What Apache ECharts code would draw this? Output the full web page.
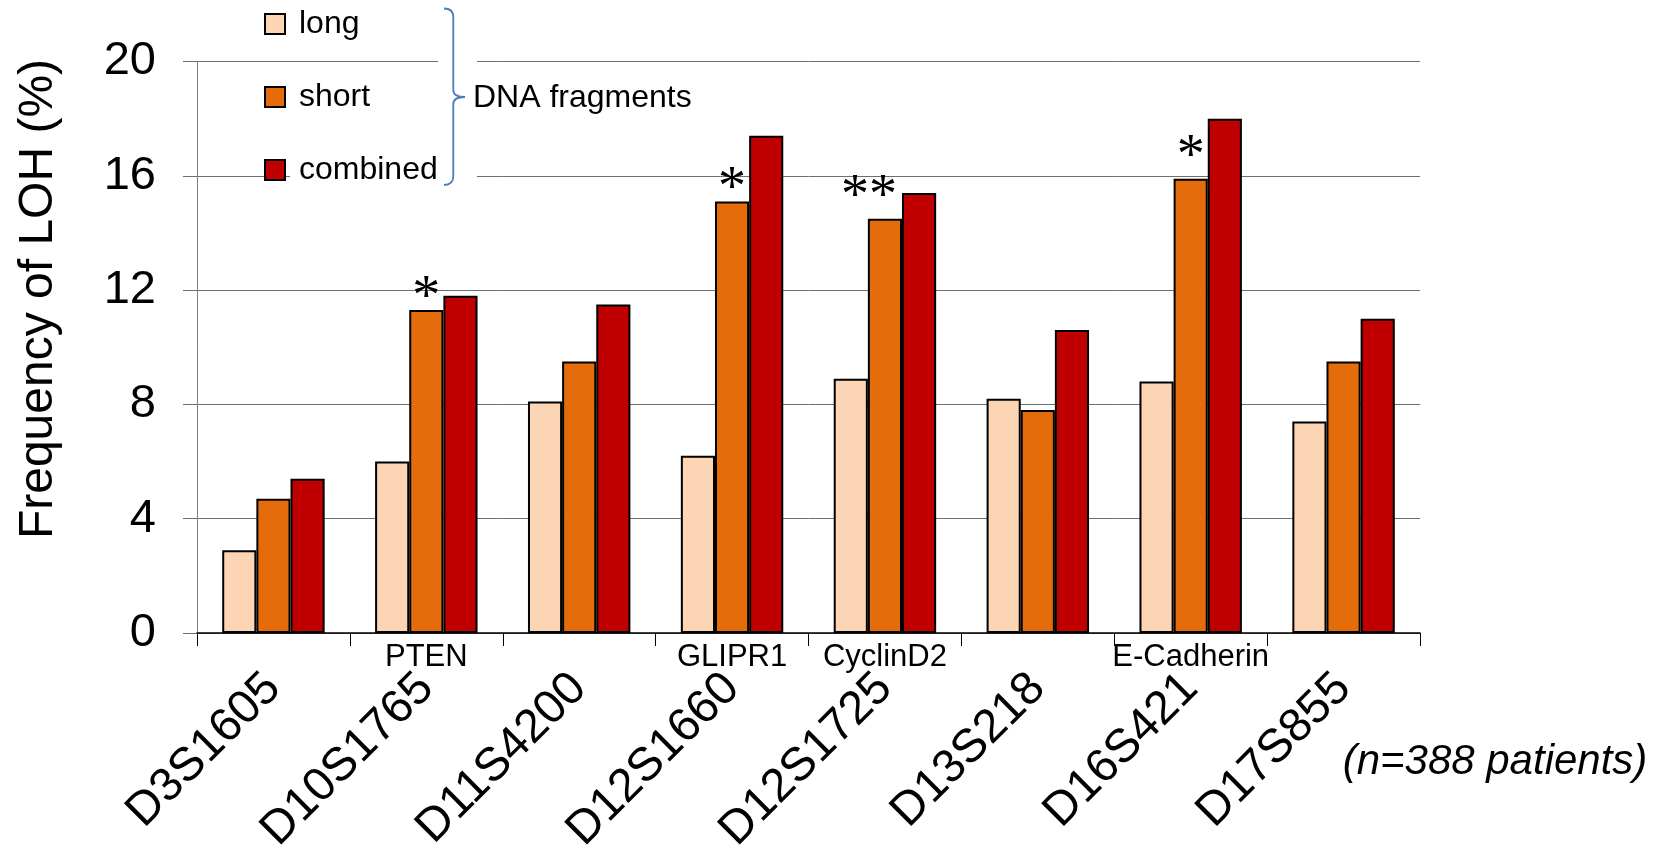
<!DOCTYPE html>
<html>
<head>
<meta charset="utf-8">
<title>Frequency of LOH</title>
<script src="https://cdn.jsdelivr.net/npm/echarts@6/dist/echarts.min.js"></script>
<style>
  html, body { margin: 0; padding: 0; background: #fff; }
  #chart { width: 1663px; height: 851px; }
</style>
</head>
<body>
<div id="chart"></div>
<script>
// Microsatellite markers along the x axis
const categories = ['D3S1605', 'D10S1765', 'D11S4200', 'D12S1660', 'D12S1725', 'D13S218', 'D16S421', 'D17S855'];
// Candidate gene near each marker ('' where none)
const geneNames = ['', 'PTEN', '', 'GLIPR1', 'CyclinD2', '', 'E-Cadherin', ''];
// Frequency of LOH (%) per DNA fragment type
const longFrag = [2.9, 6.0, 8.1, 6.2, 8.9, 8.2, 8.8, 7.4];
const shortFrag = [4.7, 11.3, 9.5, 15.1, 14.5, 7.8, 15.9, 9.5];
const combinedFrag = [5.4, 11.8, 11.5, 17.4, 15.4, 10.6, 18.0, 11.0];
// Significance marks above the short-fragment bars
const significance = ['', '*', '', '*', '**', '', '*', ''];
const seriesNames = ['long', 'short', 'combined'];
const yMin = 0, yMax = 20, yStep = 4;

const colors = { long: '#FCD5B5', short: '#E46C0A', combined: '#C00000' };
const sans = 'Liberation Sans, Arial, sans-serif';

const chart = echarts.init(document.getElementById('chart'), null, { renderer: 'canvas' });

function barSeries(name, values, extra) {
  return Object.assign({
    name: name,
    type: 'bar',
    xAxisIndex: 0,
    barGap: '0%',
    barCategoryGap: '33%',
    itemStyle: { color: colors[name], borderColor: '#000', borderWidth: 2 },
    emphasis: { disabled: true },
    data: values
  }, extra || {});
}

// short bars carry the significance stars
const shortData = shortFrag.map(function (v, i) {
  const mark = significance[i];
  if (!mark) return v;
  const raised = (mark === '**' || i === 6);
  return {
    value: v,
    label: {
      show: true,
      formatter: mark,
      offset: [mark === '**' ? -16 : 0, raised ? 13 : 22]
    }
  };
});

// curly bracket pieces
const bracketStroke = { stroke: '#4A7EBB', lineWidth: 1.8, fill: 'none' };
function bracketCurve(x1, y1, cx, cy, x2, y2) {
  return { type: 'bezierCurve', z: 4, shape: { x1: x1, y1: y1, cpx1: cx, cpy1: cy, x2: x2, y2: y2 }, style: bracketStroke };
}
function bracketLine(x1, y1, x2, y2) {
  return { type: 'line', z: 4, shape: { x1: x1, y1: y1, x2: x2, y2: y2 }, style: bracketStroke };
}

const option = {
  backgroundColor: '#fff',
  animation: false,
  grid: { left: 197, right: 243, top: 61.5, bottom: 218, outerBoundsMode: 'none' },
  legend: {
    orient: 'vertical',
    left: 264,
    top: 8,
    padding: 0,
    icon: 'rect',
    itemWidth: 20,
    itemHeight: 20,
    itemGap: 41,
    selectedMode: false,
    data: seriesNames,
    textStyle: {
      fontFamily: sans, fontSize: 32, color: '#000', lineHeight: 32,
      backgroundColor: '#fff', padding: [0, 4, 0, 9]
    }
  },
  xAxis: [
    {
      type: 'category',
      data: categories,
      position: 'bottom',
      axisLine: { lineStyle: { color: '#000', width: 1.5 } },
      axisTick: { show: true, length: 13, lineStyle: { color: '#000', width: 1 } },
      axisLabel: {
        interval: 0, rotate: 45, margin: 48,
        fontFamily: sans, fontSize: 47, color: '#000'
      },
      splitLine: { show: false }
    },
    {
      type: 'category',
      data: categories,
      position: 'bottom',
      axisLine: { show: false },
      axisTick: { show: false },
      axisLabel: {
        interval: 0, margin: 9,
        fontFamily: sans, fontSize: 31, color: '#000',
        formatter: function (v, i) { return geneNames[i]; }
      },
      splitLine: { show: false }
    }
  ],
  yAxis: {
    type: 'value',
    min: yMin, max: yMax, interval: yStep,
    axisLine: { show: true, lineStyle: { color: '#808080', width: 1 } },
    axisTick: { show: true, inside: false, length: 14, lineStyle: { color: '#6e6e6e', width: 1 } },
    axisLabel: { margin: 41, fontFamily: sans, fontSize: 47, color: '#000' },
    splitLine: { show: true, lineStyle: { color: '#6e6e6e', width: 1 } }
  },
  series: [
    barSeries('long', longFrag),
    barSeries('short', shortData, {
      label: {
        show: false,
        position: 'top',
        distance: 5,
        fontFamily: 'Liberation Serif, Times New Roman, serif',
        fontSize: 56,
        lineHeight: 56,
        color: '#000'
      }
    }),
    barSeries('combined', combinedFrag)
  ],
  graphic: [
    // white backing behind the bracket so the grid lines break around it
    {
      type: 'rect', z: 3,
      shape: { x: 438, y: 0, width: 39, height: 192 },
      style: { fill: '#fff' }
    },
    bracketCurve(444, 8.5, 453.3, 8.5, 453.3, 17),
    bracketLine(453.3, 17, 453.3, 90),
    bracketCurve(453.3, 90, 453.3, 97, 465, 97),
    bracketCurve(465, 97, 453.3, 97, 453.3, 104),
    bracketLine(453.3, 104, 453.3, 176),
    bracketCurve(453.3, 176, 453.3, 185, 444, 185),
    {
      type: 'text', z: 4,
      style: {
        x: 473, y: 98, text: 'DNA fragments',
        font: '32px ' + sans, fill: '#000',
        textAlign: 'left', textVerticalAlign: 'middle'
      }
    },
    {
      type: 'text', z: 4,
      x: 39, y: 299, rotation: Math.PI / 2,
      style: {
        x: 0, y: 0, text: 'Frequency of LOH (%)',
        font: '48px ' + sans, fill: '#000',
        textAlign: 'center', textVerticalAlign: 'middle'
      }
    },
    {
      type: 'text', z: 4,
      style: {
        x: 1495, y: 762, text: '(n=388 patients)',
        font: 'italic 42px ' + sans, fill: '#000',
        textAlign: 'center', textVerticalAlign: 'middle'
      }
    }
  ]
};

chart.setOption(option);
</script>
</body>
</html>
